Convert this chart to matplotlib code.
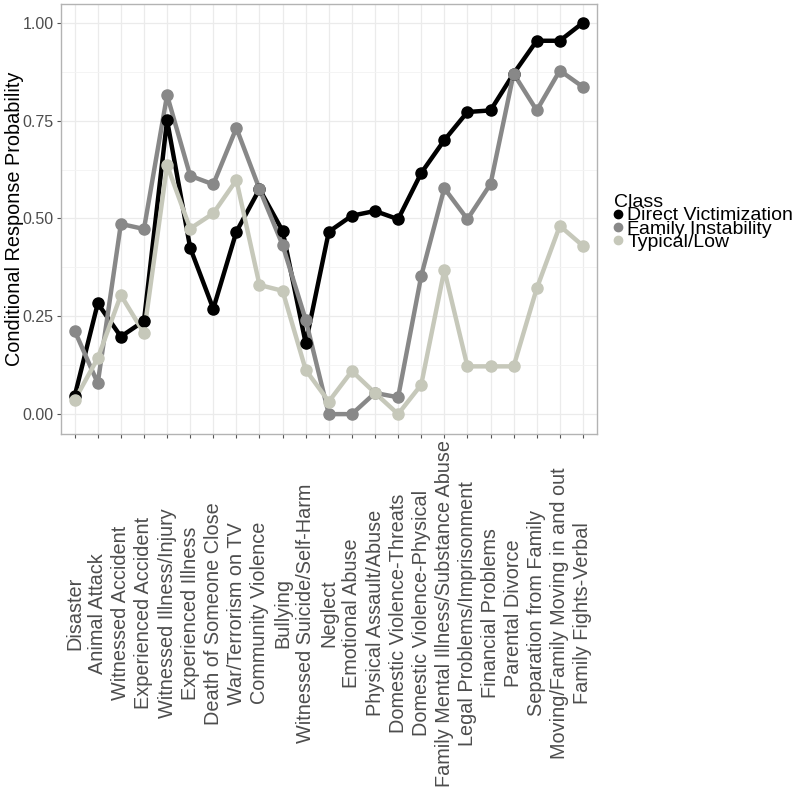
import numpy as np
import matplotlib.pyplot as plt
from matplotlib.ticker import MultipleLocator

plt.rcParams['font.family'] = ['Liberation Sans', 'DejaVu Sans']

# Categorias del eje x
categorias = ['Disaster', 'Animal Attack', 'Witnessed Accident', 'Experienced Accident',
              'Witnessed Illness/Injury', 'Experienced Illness', 'Death of Someone Close',
              'War/Terrorism on TV', 'Community Violence', 'Bullying',
              'Witnessed Suicide/Self-Harm', 'Neglect', 'Emotional Abuse',
              'Physical Assault/Abuse', 'Domestic Violence-Threats',
              'Domestic Violence-Physical', 'Family Mental Illness/Substance Abuse',
              'Legal Problems/Imprisonment', 'Financial Problems', 'Parental Divorce',
              'Separation from Family', 'Moving/Family Moving in and out',
              'Family Fights-Verbal']

# Probabilidades de respuesta condicional por clase
direct = [0.046, 0.283, 0.198, 0.238, 0.751, 0.425, 0.269, 0.466, 0.575, 0.468, 0.181,
          0.466, 0.507, 0.519, 0.498, 0.616, 0.700, 0.772, 0.776, 0.870, 0.954, 0.954, 1.000]
family = [0.213, 0.079, 0.486, 0.473, 0.815, 0.609, 0.587, 0.731, 0.575, 0.432, 0.241,
          0.000, 0.000, 0.054, 0.043, 0.353, 0.577, 0.498, 0.588, 0.870, 0.776, 0.878, 0.836]
typical = [0.036, 0.143, 0.304, 0.207, 0.636, 0.474, 0.513, 0.598, 0.330, 0.315, 0.113,
           0.032, 0.110, 0.054, 0.000, 0.075, 0.368, 0.122, 0.122, 0.122, 0.321, 0.481, 0.430]

clases = ['Direct Victimization', 'Family Instability', 'Typical/Low']
series = [direct, family, typical]
colores = ['#000000', '#888888', '#c6c8ba']

fig = plt.figure(figsize=(8, 7.95), dpi=100)
ax = fig.add_axes([0.076, 0.454, 0.670, 0.541])

x = np.arange(len(categorias))
handles = []
for i, (vals, col, lab) in enumerate(zip(series, colores, clases)):
    ax.plot(x, vals, color=col, lw=3.2, zorder=2 + i, solid_capstyle='round')
    h, = ax.plot(x, vals, 'o', color=col, ms=8, zorder=5 + i, label=lab)
    handles.append(h)

ax.set_xlim(-0.6, len(categorias) - 0.4)
ax.set_ylim(-0.051, 1.048)
ax.set_xticks(x)
ax.set_xticklabels(categorias, rotation=90, va='center', ha='center', fontsize=14.3, color='#4d4d4d')
ax.yaxis.set_minor_locator(MultipleLocator(0.125))
ax.set_yticks([0, 0.25, 0.5, 0.75, 1.0])
ax.set_yticklabels(['0.00', '0.25', '0.50', '0.75', '1.00'], fontsize=11.5, color='#4d4d4d')
ax.tick_params(axis='x', length=3, color='#555555', pad=126)
ax.tick_params(axis='y', length=3, color='#555555', pad=2)
ax.tick_params(which='minor', length=0)

ax.grid(True, which='major', color='#ebebeb', lw=0.9)
ax.grid(True, which='minor', axis='y', color='#f3f3f3', lw=0.6)
ax.set_axisbelow(True)
for s in ax.spines.values():
    s.set_color('#b3b3b3')
    s.set_linewidth(1.0)

ax.set_ylabel('Conditional Response Probability', fontsize=14.3)
ax.yaxis.set_label_coords(-0.069, 0.5)

leg = fig.legend(handles=handles, labels=clases, title='Class', loc='upper left',
                 bbox_to_anchor=(0.755, 0.768), frameon=False, fontsize=14,
                 title_fontsize=14, handlelength=0.4, handletextpad=0.3,
                 labelspacing=-0.22, borderpad=0, markerscale=0.75)
leg._legend_box.align = 'left'

fig.savefig('out.png', dpi=100)
